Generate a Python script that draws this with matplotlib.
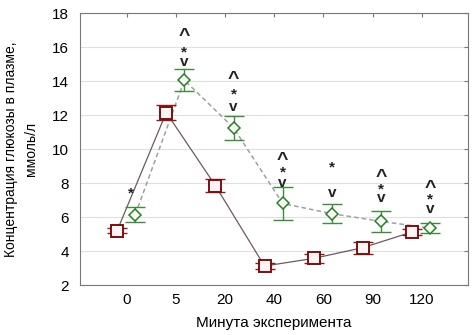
import matplotlib.pyplot as plt
import numpy as np

plt.rcParams['font.family'] = ['Liberation Sans', 'DejaVu Sans']

# ======= Data =======
minutes = ['0', '5', '20', '40', '60', '90', '120']
ctrl_mean = [5.2, 12.15, 7.85, 3.12, 3.57, 4.2, 5.12]
ctrl_err = [0.15, 0.45, 0.4, 0.15, 0.28, 0.35, 0.15]
test_mean = [6.15, 14.05, 11.25, 6.8, 6.2, 5.75, 5.35]
test_err = [0.45, 0.65, 0.7, 0.97, 0.55, 0.6, 0.3]

# significance marks: (category index, x offset, y value, symbol)
marks = [
    (0, 0.08, 7.4, '*'),
    (1, 0.17, 16.6, '^'), (1, 0.17, 15.7, '*'), (1, 0.17, 15.15, 'v'),
    (2, 0.17, 14.1, '^'), (2, 0.17, 13.2, '*'), (2, 0.17, 12.5, 'v'),
    (3, 0.17, 9.35, '^'), (3, 0.17, 8.65, '*'), (3, 0.17, 8.0, 'v'),
    (4, 0.17, 8.94, '*'), (4, 0.17, 7.41, 'v'),
    (5, 0.17, 8.3, '^'), (5, 0.17, 7.65, '*'), (5, 0.17, 7.1, 'v'),
    (6, 0.17, 7.7, '^'), (6, 0.17, 7.06, '*'), (6, 0.17, 6.5, 'v'),
]
mark_size = {'*': 11, '^': 14, 'v': 11}

x = np.arange(len(minutes))

fig = plt.figure(figsize=(4.75, 3.35), dpi=100)
ax = fig.add_axes([0.168, 0.149, 0.817, 0.812])

# control group
ax.plot(x - 0.2, ctrl_mean, color='#6e5a5a', lw=0.9, zorder=2)
ax.errorbar(x - 0.2, ctrl_mean, yerr=ctrl_err, fmt='none', ecolor='#8b1a1a',
            elinewidth=1, capsize=7, capthick=1, zorder=3)
ax.plot(x - 0.2, ctrl_mean, 's', ms=9, mfc='#fff4f4', mec='#7a1010', mew=1.4, zorder=4)

# test group
ax.plot(x + 0.17, test_mean, color='#a0a0a0', lw=1.1, ls=(0, (3, 2)), zorder=2)
ax.errorbar(x + 0.17, test_mean, yerr=test_err, fmt='none', ecolor='#3c8c3c',
            elinewidth=1, capsize=7, capthick=1, zorder=3)
ax.plot(x + 0.17, test_mean, 'D', ms=6.5, mfc='#f4fff0', mec='#2e7d2e', mew=1.1, zorder=4)

for i, dx, yv, s in marks:
    ax.text(i + dx, yv, s, ha='center', va='center', fontsize=mark_size[s],
            fontweight='bold', color='#222222')

ax.set_xlim(-0.96, 6.94)
ax.set_ylim(2, 18)
ax.set_yticks(range(2, 19, 2))
ax.set_xticks(x)
ax.set_xticklabels(minutes)
ax.tick_params(axis='both', labelsize=11, length=3, color='#777777')
ax.tick_params(axis='x', pad=6)
ax.tick_params(top=True, right=True, direction='in')
ax.tick_params(axis='y', left=False, pad=8)
ax.tick_params(axis='x', bottom=False)
ax.grid(axis='y', color='#e0e0e0', lw=0.8)
ax.set_axisbelow(True)
for sp in ax.spines.values():
    sp.set_color('#777777')

ax.set_xlabel('Минута эксперимента', fontsize=11, labelpad=6)
ax.set_ylabel('Концентрация глюкозы в плазме,\nммоль/л', fontsize=10, labelpad=10, linespacing=1.5)

fig.savefig('out.png', dpi=100)
